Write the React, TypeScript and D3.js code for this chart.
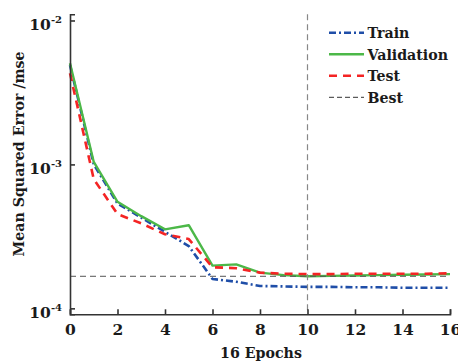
import React, { useEffect, useRef } from "react";
import * as d3 from "d3";

const epochs = [0, 1, 2, 3, 4, 5, 6, 7, 8, 9, 10, 11, 12, 13, 14, 15, 16];
const trainMse = [4.9e-3, 1.0e-3, 5.35e-4, 4.27e-4, 3.4e-4, 2.71e-4, 1.6e-4, 1.53e-4, 1.43e-4, 1.42e-4, 1.41e-4, 1.41e-4, 1.4e-4, 1.4e-4, 1.39e-4, 1.39e-4, 1.39e-4];
const validationMse = [5.05e-3, 1.04e-3, 5.5e-4, 4.37e-4, 3.54e-4, 3.78e-4, 1.98e-4, 2.02e-4, 1.77e-4, 1.7e-4, 1.67e-4, 1.68e-4, 1.69e-4, 1.7e-4, 1.71e-4, 1.72e-4, 1.73e-4];
const testMse = [4.3e-3, 7.9e-4, 4.52e-4, 3.89e-4, 3.27e-4, 3.03e-4, 1.93e-4, 1.9e-4, 1.77e-4, 1.74e-4, 1.73e-4, 1.73e-4, 1.74e-4, 1.74e-4, 1.74e-4, 1.74e-4, 1.75e-4];
const bestEpoch = 10;
const bestMse = 1.67e-4;
const xTicks = [0, 2, 4, 6, 8, 10, 12, 14, 16];
const yTicks = [1e-4, 1e-3, 1e-2];
const yTickExp = ["-4", "-3", "-2"];
const legendLabels = ["Train", "Validation", "Test", "Best"];

const FONT = "'DejaVu Serif', serif";

export default function App() {
  const ref = useRef<SVGSVGElement | null>(null);

  useEffect(() => {
    const svg = d3.select(ref.current);
    svg.selectAll("*").remove();

    const left = 70, right = 450, top = 14.3, bottom = 314.3;
    const x = d3.scaleLinear().domain([0, 16]).range([left, right]);
    const y = d3.scaleLog().domain([9.09e-5, 1.104e-2]).range([bottom, top]);

    const g = svg.append("g");

    const line = d3
      .line<number>()
      .x((_, i) => x(epochs[i]))
      .y((d) => y(d));

    const series = [
      { data: trainMse, color: "#1f4ea8", dash: "7,3,2,3", width: 2.6 },
      { data: validationMse, color: "#4cb848", dash: null, width: 2.4 },
      { data: testMse, color: "#f42424", dash: "8,6", width: 2.6 },
    ];

    series.forEach((s) => {
      const p = g
        .append("path")
        .attr("d", line(s.data) as string)
        .attr("fill", "none")
        .attr("stroke", s.color)
        .attr("stroke-width", s.width)
        .attr("stroke-linejoin", "round");
      if (s.dash) p.attr("stroke-dasharray", s.dash);
    });

    // best lines
    g.append("line")
      .attr("x1", x(0)).attr("x2", x(16))
      .attr("y1", y(bestMse)).attr("y2", y(bestMse))
      .attr("stroke", "#555").attr("stroke-width", 1)
      .attr("stroke-dasharray", "6,4");
    g.append("line")
      .attr("x1", x(bestEpoch)).attr("x2", x(bestEpoch))
      .attr("y1", y.range()[1]).attr("y2", y.range()[0])
      .attr("stroke", "#888").attr("stroke-width", 1.2)
      .attr("stroke-dasharray", "6,4");

    // axes
    const xAxis = d3.axisBottom(x).tickValues(xTicks).tickSize(-5).tickSizeOuter(-5).tickPadding(10).tickFormat(d3.format("d"));
    const gx = svg.append("g").attr("transform", `translate(0,${bottom})`).call(xAxis);
    gx.select(".domain").attr("stroke", "#333").attr("stroke-width", 1.6);
    gx.selectAll(".tick line").attr("stroke", "#333").attr("stroke-width", 1.6);
    gx.selectAll(".tick text")
      .attr("font-family", FONT)
      .attr("font-weight", "bold")
      .attr("font-size", 15.5)
      .attr("fill", "#1a1a1a");

    const yAxis = d3.axisLeft(y).tickValues(yTicks).tickSize(-5).tickSizeOuter(-5).tickFormat(() => "");
    const gy = svg.append("g").attr("transform", `translate(${left},0)`).call(yAxis);
    gy.select(".domain").attr("stroke", "#333").attr("stroke-width", 1.6);
    gy.selectAll(".tick line").attr("stroke", "#333").attr("stroke-width", 1.6);
    gy.selectAll(".tick text").remove();
    yTicks.forEach((v, i) => {
      const t = svg
        .append("text")
        .attr("x", 62)
        .attr("y", y(v) + 9.5)
        .attr("text-anchor", "end")
        .attr("font-family", FONT)
        .attr("font-weight", "bold")
        .attr("font-size", 15.5)
        .attr("fill", "#1a1a1a");
      t.append("tspan").text("10");
      t.append("tspan").attr("dy", -7).attr("font-size", 10).text(yTickExp[i]);
    });

    // axis labels
    svg.append("text")
      .attr("x", (left + right) / 2 + 1)
      .attr("y", 358)
      .attr("text-anchor", "middle")
      .attr("font-family", FONT)
      .attr("font-weight", "bold")
      .attr("font-size", 14.2)
      .attr("fill", "#1a1a1a")
      .text("16 Epochs");

    svg.append("text")
      .attr("transform", `translate(24,154) rotate(-90)`)
      .attr("text-anchor", "middle")
      .attr("font-family", FONT)
      .attr("font-weight", "bold")
      .attr("font-size", 14.2)
      .attr("fill", "#1a1a1a")
      .text("Mean Squared Error /mse");

    // legend
    const legendStyles = [
      { color: "#1f4ea8", dash: "7,3,2,3", width: 2.6 },
      { color: "#4cb848", dash: null, width: 2.4 },
      { color: "#f42424", dash: "8,6", width: 2.6 },
      { color: "#333", dash: "5,3", width: 1 },
    ];
    const lg = svg.append("g");
    legendLabels.forEach((lab, i) => {
      const cy = 32.8 + i * 21.5;
      const l = lg.append("line")
        .attr("x1", 329).attr("x2", 364)
        .attr("y1", cy).attr("y2", cy)
        .attr("stroke", legendStyles[i].color)
        .attr("stroke-width", legendStyles[i].width);
      if (legendStyles[i].dash) l.attr("stroke-dasharray", legendStyles[i].dash as string);
      lg.append("text")
        .attr("x", 367.5)
        .attr("y", cy + 5.5)
        .attr("font-family", FONT)
        .attr("font-weight", "bold")
        .attr("font-size", 14.2)
        .attr("fill", "#1a1a1a")
        .text(lab);
    });
  }, []);

  return (
    <svg
      ref={ref}
      width={458}
      height={361}
      style={{ position: "absolute", left: 0, top: 0, background: "#fff" }}
    />
  );
}
